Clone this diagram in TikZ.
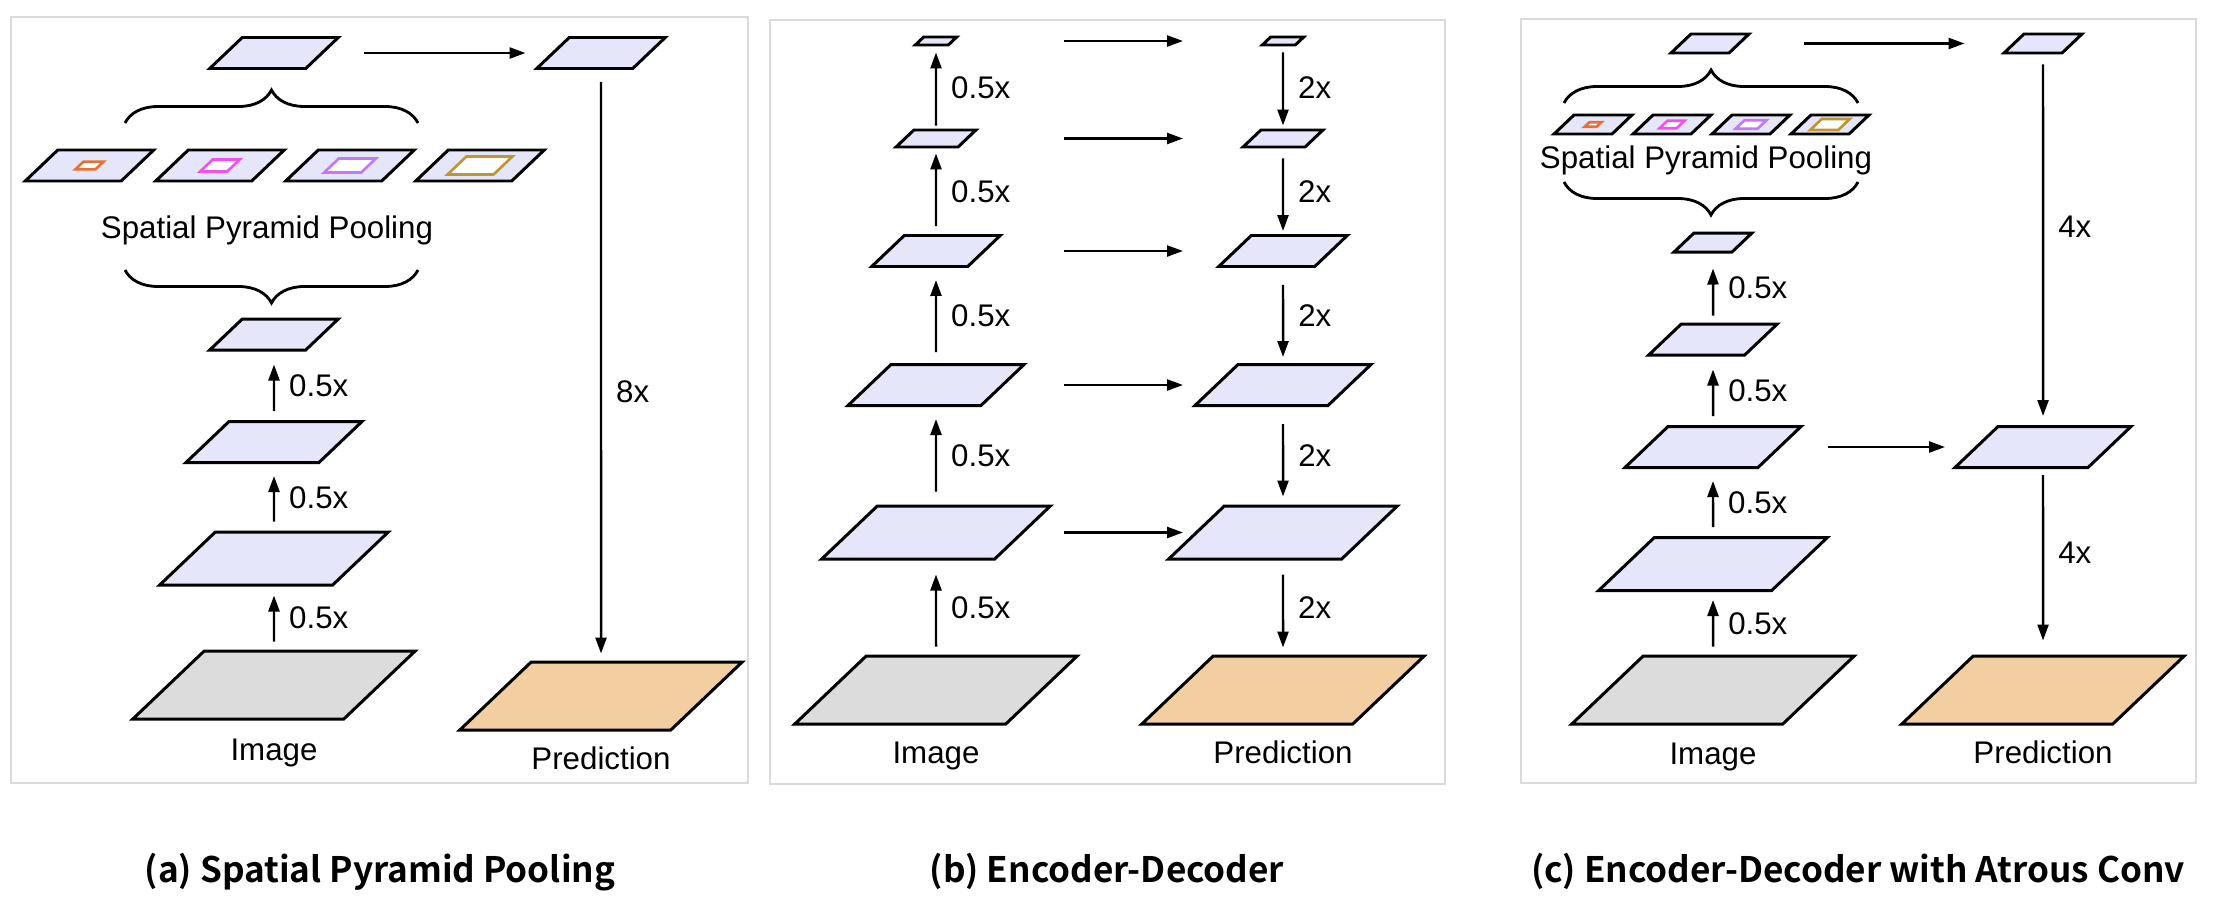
\documentclass[tikz,border=0pt]{standalone}
\usepackage{fontspec}
\setmainfont{Liberation Sans}
\newfontfamily\capfont{Noto Sans CJK KR Bold}
\usepackage{xcolor}
\definecolor{maplav}{RGB}{230,230,250}
\definecolor{imggray}{RGB}{220,220,220}
\definecolor{predtan}{RGB}{242,206,160}
\definecolor{poolora}{RGB}{232,112,48}
\definecolor{poolmag}{RGB}{240,80,240}
\definecolor{poolvio}{RGB}{195,120,250}
\definecolor{poolgold}{RGB}{192,150,48}
\definecolor{framegray}{RGB}{218,218,218}
\usetikzlibrary{arrows.meta,decorations.pathreplacing}

\begin{document}
\begin{tikzpicture}[every node/.style={font=\fontsize{8.9}{10}\selectfont},
  fmap/.style={draw, line width=0.85pt, fill=maplav, xslant=1.05, inner sep=0pt},
  win/.style={draw, line width=0.75pt, fill=white, xslant=1.05, inner sep=0pt},
  s0/.style={minimum width=2.11cm, minimum height=0.68cm},
  s1/.style={minimum width=1.73cm, minimum height=0.53cm},
  s2/.style={minimum width=1.33cm, minimum height=0.41cm},
  s3/.style={minimum width=0.96cm, minimum height=0.31cm},
  s4/.style={minimum width=0.62cm, minimum height=0.17cm},
  s5/.style={minimum width=0.33cm, minimum height=0.08cm},
  sc/.style={minimum width=0.58cm, minimum height=0.19cm},
  arr/.style={-{Triangle[length=1.6mm, width=1.1mm]}, line width=0.7pt, shorten <=0.09cm, shorten >=0.1cm},
  lbl/.style={right, inner sep=0pt, xshift=0.14cm},
  brc/.style={decorate, decoration={brace, amplitude=0.33cm}, line width=0.8pt},
  frm/.style={draw=framegray, line width=0.5pt},
  subcap/.style={anchor=base, font=\capfont\fontsize{10}{12}\selectfont}]
\useasboundingbox (0,0) rectangle (22.14,9.08);
\draw[frm] (0.11,1.25) rectangle (7.48,8.91);
\draw[frm] (7.70,1.24) rectangle (14.45,8.88);
\draw[frm] (15.21,1.25) rectangle (21.96,8.89);

% (a) spatial pyramid pooling
\node[fmap, s0, fill=imggray] (aimg) at (2.74,2.23) {};
\node[fmap, s1] (al1) at (2.74,3.495) {};
\node[fmap, s2] (al2) at (2.74,4.66) {};
\node[fmap, s3] (ain) at (2.74,5.735) {};
\node[fmap, s3] (ap1) at (0.895,7.425) {};
\node[fmap, s3] (ap2) at (2.20,7.425) {};
\node[fmap, s3] (ap3) at (3.50,7.425) {};
\node[fmap, s3] (ap4) at (4.80,7.425) {};
\node[win, draw=poolora, minimum width=0.20cm, minimum height=0.077cm] (aw1) at (ap1) {};
\node[win, draw=poolmag, minimum width=0.27cm, minimum height=0.12cm] (aw2) at (ap2) {};
\node[win, draw=poolvio, minimum width=0.37cm, minimum height=0.14cm] (aw3) at (ap3) {};
\node[win, draw=poolgold, minimum width=0.46cm, minimum height=0.18cm] (aw4) at (ap4) {};
\node[fmap, s3] (aout) at (2.74,8.55) {};
\node[fmap, s3] (aup) at (6.01,8.55) {};
\node[fmap, s0, fill=predtan] (apred) at (6.01,2.12) {};
\draw[brc] (1.25,7.85) -- (4.18,7.85);
\draw[brc] (4.18,6.38) -- (1.25,6.38);
\node[anchor=base] (aspp) at (2.67,6.70) {Spatial Pyramid Pooling};
\node[anchor=base] (aimgt) at (2.74,1.48) {Image};
\node[anchor=base] (apredt) at (6.01,1.39) {Prediction};
\draw[arr, shorten <=0.08cm, shorten >=0.09cm] (aimg) -- node[lbl] (ax1) {0.5x} (al1);
\draw[arr, shorten >=0.12cm] (al1) -- node[lbl] (ax2) {0.5x} (al2);
\draw[arr, shorten >=0.13cm] (al2) -- node[lbl] (ax3) {0.5x} (ain);
\draw[arr, shorten <=0.41cm, shorten >=0.26cm] (aout) -- (aup);
\draw[arr, shorten <=0.12cm, shorten >=0.07cm] (aup) -- node[lbl, pos=0.545] (ax4) {8x} (apred);
\node[subcap] (acap) at (3.80,0.26) {(a) Spatial Pyramid Pooling};

% (b) encoder-decoder
\node[fmap, s0, fill=imggray] (bimg) at (9.36,2.18) {};
\node[fmap, s1] (be1) at (9.36,3.755) {};
\node[fmap, s2] (be2) at (9.36,5.23) {};
\node[fmap, s3] (be3) at (9.36,6.57) {};
\node[fmap, s4] (be4) at (9.36,7.695) {};
\node[fmap, s5] (be5) at (9.36,8.67) {};
\node[fmap, s0, fill=predtan] (bpred) at (12.83,2.18) {};
\node[fmap, s1] (bd1) at (12.83,3.755) {};
\node[fmap, s2] (bd2) at (12.83,5.23) {};
\node[fmap, s3] (bd3) at (12.83,6.57) {};
\node[fmap, s4] (bd4) at (12.83,7.695) {};
\node[fmap, s5] (bd5) at (12.83,8.67) {};
\node[anchor=base] (bimgt) at (9.36,1.45) {Image};
\node[anchor=base] (bpredt) at (12.83,1.45) {Prediction};
\coordinate (bsl) at (10.64,0);
\coordinate (bsr) at (11.83,0);
\draw[arr, shorten <=0.08cm, shorten >=0.14cm] (bimg) -- node[lbl] (bx1) {0.5x} (be1);
\draw[arr, shorten <=0.13cm, shorten >=0.12cm] (be1) -- node[lbl] (bx2) {0.5x} (be2);
\draw[arr, shorten <=0.11cm, shorten >=0.12cm] (be2) -- node[lbl] (bx3) {0.5x} (be3);
\draw[arr, shorten <=0.08cm, shorten >=0.05cm] (be3) -- node[lbl] (bx4) {0.5x} (be4);
\draw[arr, shorten <=0.03cm, shorten >=0.06cm] (be4) -- node[lbl] (bx5) {0.5x} (be5);
\draw[arr, shorten <=0.06cm, shorten >=0.03cm] (bd5) -- node[lbl] (by5) {2x} (bd4);
\draw[arr, shorten <=0.10cm, shorten >=0.03cm] (bd4) -- node[lbl] (by4) {2x} (bd3);
\draw[arr, shorten <=0.17cm, shorten >=0.06cm] (bd3) -- node[lbl] (by3) {2x} (bd2);
\draw[arr, shorten <=0.17cm, shorten >=0.08cm] (bd2) -- node[lbl] (by2) {2x} (bd1);
\draw[arr, shorten <=0.14cm, shorten >=0.07cm] (bd1) -- node[lbl] (by1) {2x} (bpred);
\draw[arr, shorten <=0cm, shorten >=0cm] (be1 -| bsl) -- (be1 -| bsr);
\draw[arr, shorten <=0cm, shorten >=0cm] (be2 -| bsl) -- (be2 -| bsr);
\draw[arr, shorten <=0cm, shorten >=0cm] (be3 -| bsl) -- (be3 -| bsr);
\draw[arr, shorten <=0cm, shorten >=0cm] (be4 -| bsl) -- (be4 -| bsr);
\draw[arr, shorten <=0cm, shorten >=0cm] (be5 -| bsl) -- (be5 -| bsr);
\node[subcap] (bcap) at (11.07,0.26) {(b) Encoder-Decoder};

% (c) encoder-decoder with atrous conv
\node[fmap, s0, fill=imggray] (cimg) at (17.13,2.18) {};
\node[fmap, s1] (ce1) at (17.13,3.44) {};
\node[fmap, s2] (ce2) at (17.13,4.61) {};
\node[fmap, s3] (ce3) at (17.13,5.685) {};
\node[fmap, sc] (cin) at (17.13,6.655) {};
\node[fmap, sc] (cp1) at (15.93,7.835) {};
\node[fmap, sc] (cp2) at (16.72,7.835) {};
\node[fmap, sc] (cp3) at (17.51,7.835) {};
\node[fmap, sc] (cp4) at (18.30,7.835) {};
\node[win, draw=poolora, minimum width=0.12cm, minimum height=0.046cm] (cw1) at (cp1) {};
\node[win, draw=poolmag, minimum width=0.17cm, minimum height=0.074cm] (cw2) at (cp2) {};
\node[win, draw=poolvio, minimum width=0.22cm, minimum height=0.085cm] (cw3) at (cp3) {};
\node[win, draw=poolgold, minimum width=0.28cm, minimum height=0.11cm] (cw4) at (cp4) {};
\node[fmap, sc] (cout) at (17.10,8.645) {};
\node[fmap, sc] (cup) at (20.43,8.645) {};
\node[fmap, s2] (cd) at (20.43,4.61) {};
\node[fmap, s0, fill=predtan] (cpred) at (20.43,2.18) {};
\draw[brc] (15.64,8.05) -- (18.58,8.05);
\draw[brc] (18.58,7.26) -- (15.64,7.26);
\node[anchor=base] (cspp) at (17.06,7.40) {Spatial Pyramid Pooling};
\node[anchor=base] (cimgt) at (17.13,1.44) {Image};
\node[anchor=base] (cpredt) at (20.43,1.45) {Prediction};
\draw[arr, shorten <=0.08cm, shorten >=0.08cm] (cimg) -- node[lbl] (cx1) {0.5x} (ce1);
\draw[arr, shorten >=0.12cm] (ce1) -- node[lbl] (cx2) {0.5x} (ce2);
\draw[arr, shorten >=0.13cm] (ce2) -- node[lbl] (cx3) {0.5x} (ce3);
\draw[arr, shorten <=0.07cm, shorten >=0.15cm] (ce3) -- node[lbl] (cx4) {0.5x} (cin);
\draw[arr, shorten <=0.63cm, shorten >=0.48cm] (cout) -- (cup);
\draw[arr, shorten <=0.10cm, shorten >=0.09cm] (cup) -- node[lbl, pos=0.465] (cy2) {4x} (cd);
\draw[arr, shorten <=0.06cm, shorten >=0.14cm] (cd) -- node[lbl, pos=0.45] (cy1) {4x} (cpred);
\draw[arr, shorten <=0.47cm, shorten >=0.30cm] (ce2) -- (cd);
\node[subcap] (ccap) at (18.58,0.26) {(c) Encoder-Decoder with Atrous Conv};
\end{tikzpicture}
\end{document}
